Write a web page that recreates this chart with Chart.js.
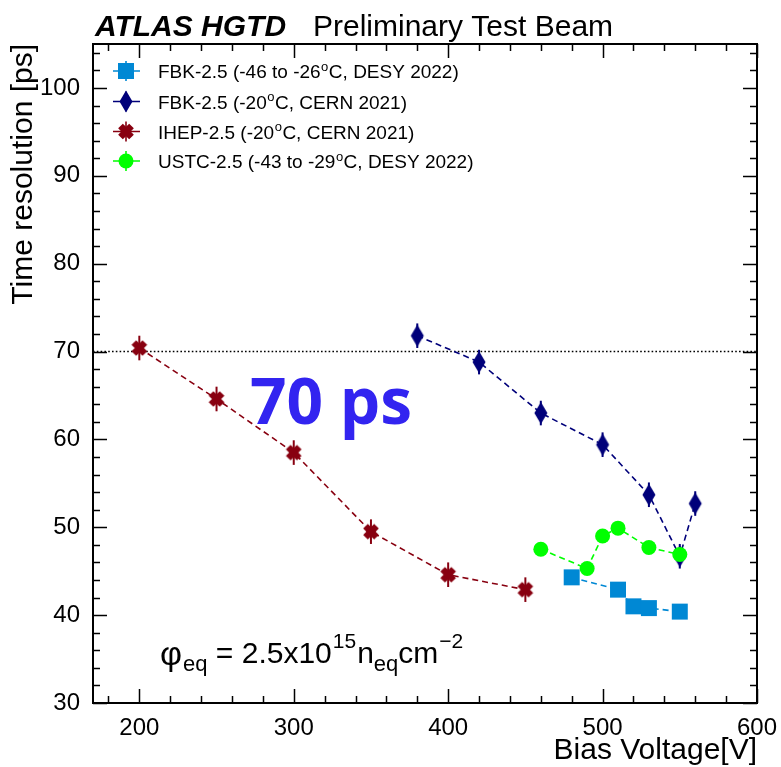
<!DOCTYPE html>
<html>
<head>
<meta charset="utf-8">
<title>Time resolution vs bias voltage</title>
<script src="https://cdn.jsdelivr.net/npm/chart.js@4/dist/chart.umd.min.js"></script>
<style>
  html, body { margin: 0; padding: 0; background: #ffffff; }
  canvas { display: block; }
</style>
</head>
<body>
<canvas id="chart" width="781" height="767"></canvas>
<script>
// Time resolution [ps] measured at each bias voltage [V]
const fbkDesyBias = [480, 510, 520, 530, 550];
const fbkDesyRes  = [44.3, 42.9, 41.0, 40.8, 40.4];

const fbkCernBias = [380, 420, 460, 500, 530, 550, 560];
const fbkCernRes  = [71.8, 68.8, 63.0, 59.4, 53.7, 46.7, 52.7];
const fbkCernErr  = [1.4, 1.4, 1.4, 1.4, 1.4, 1.4, 1.4];

const ihepBias = [200, 250, 300, 350, 400, 450];
const ihepRes  = [70.4, 64.6, 58.5, 49.5, 44.6, 42.9];
const ihepErr  = [1.4, 1.4, 1.4, 1.4, 1.4, 1.4];

const ustcBias = [460, 490, 500, 510, 530, 550];
const ustcRes  = [47.5, 45.3, 49.0, 49.9, 47.7, 46.9];

const seriesLabels = [
  'FBK-2.5 (-46 to -26°C, DESY 2022)',
  'FBK-2.5 (-20°C, CERN 2021)',
  'IHEP-2.5 (-20°C, CERN 2021)',
  'USTC-2.5 (-43 to -29°C, DESY 2022)'
];

const xTickValues = [200, 300, 400, 500, 600];
const yTickValues = [30, 40, 50, 60, 70, 80, 90, 100];
const targetResolution = 70;

const FONT = '"Liberation Sans", Arial, Helvetica, sans-serif';
const COLORS = { fbkDesy: '#0088d4', fbkCern: '#00007a', ihep: '#880010', ustc: '#00ff00' };

// ---- marker shapes ----
function pathDiamond(ctx, x, y) {
  ctx.beginPath();
  ctx.moveTo(x, y - 11);
  ctx.lineTo(x + 6.5, y);
  ctx.lineTo(x, y + 11);
  ctx.lineTo(x - 6.5, y);
  ctx.closePath();
}
function pathCrossX(ctx, x, y) {
  const a = 3.3, b = 7.8;
  const pts = [[-a,-b],[a,-b],[a,-a],[b,-a],[b,a],[a,a],[a,b],[-a,b],[-a,a],[-b,a],[-b,-a],[-a,-a]];
  const c = Math.SQRT1_2;
  ctx.beginPath();
  pts.forEach(([px, py], i) => {
    const rx = (px - py) * c, ry = (px + py) * c;
    if (i === 0) ctx.moveTo(x + rx, y + ry); else ctx.lineTo(x + rx, y + ry);
  });
  ctx.closePath();
}
function markerCanvas(w, h, color, pathFn) {
  const cv = document.createElement('canvas');
  cv.width = w; cv.height = h;
  const c = cv.getContext('2d');
  c.fillStyle = color;
  pathFn(c, w / 2, h / 2);
  c.fill();
  return cv;
}
const diamondStyle = markerCanvas(16, 24, COLORS.fbkCern, pathDiamond);
const crossStyle = markerCanvas(20, 20, COLORS.ihep, pathCrossX);

function drawMarker(ctx, kind, x, y, color) {
  ctx.save();
  ctx.fillStyle = color;
  if (kind === 'rect') {
    ctx.fillRect(x - 8, y - 8, 16, 16);
  } else if (kind === 'circle') {
    ctx.beginPath(); ctx.arc(x, y, 7.5, 0, Math.PI * 2); ctx.fill();
  } else if (kind === 'diamond') {
    pathDiamond(ctx, x, y); ctx.fill();
  } else {
    pathCrossX(ctx, x, y); ctx.fill();
  }
  ctx.restore();
}

const toXY = (xs, ys) => xs.map((v, i) => ({ x: v, y: ys[i] }));

const datasets = [
  {
    label: seriesLabels[0], data: toXY(fbkDesyBias, fbkDesyRes),
    borderColor: COLORS.fbkDesy, backgroundColor: COLORS.fbkDesy,
    pointStyle: 'rect', pointRadius: 11.3, order: 3, marker: 'rect'
  },
  {
    label: seriesLabels[1], data: toXY(fbkCernBias, fbkCernRes),
    borderColor: COLORS.fbkCern, backgroundColor: COLORS.fbkCern,
    pointStyle: diamondStyle, pointRadius: 11, order: 2, marker: 'diamond', errors: fbkCernErr
  },
  {
    label: seriesLabels[2], data: toXY(ihepBias, ihepRes),
    borderColor: COLORS.ihep, backgroundColor: COLORS.ihep,
    pointStyle: crossStyle, pointRadius: 10, order: 1, marker: 'cross', errors: ihepErr
  },
  {
    label: seriesLabels[3], data: toXY(ustcBias, ustcRes),
    borderColor: COLORS.ustc, backgroundColor: COLORS.ustc,
    pointStyle: 'circle', pointRadius: 7.5, order: 0, marker: 'circle'
  }
];
datasets.forEach(d => Object.assign(d, {
  showLine: true, borderWidth: 1.6, borderDash: [6, 4], fill: false,
  tension: 0, pointBorderWidth: 0, pointHoverRadius: d.pointRadius
}));

// ---- text helpers ----
function textWithDegree(ctx, text, x, y, size) {
  const parts = text.split('°');
  parts.forEach((p, i) => {
    ctx.font = `${size}px ${FONT}`;
    ctx.fillText(p, x, y);
    x += ctx.measureText(p).width;
    if (i < parts.length - 1) {
      ctx.font = `${Math.round(size * 0.68)}px ${FONT}`;
      ctx.fillText('o', x + 0.5, y - size * 0.38);
      x += ctx.measureText('o').width + 1;
    }
  });
}
function runs(ctx, x, pieces) {
  pieces.forEach(([t, size, baseY, gap]) => {
    ctx.font = `${size}px ${FONT}`;
    ctx.fillText(t, x, baseY);
    x += ctx.measureText(t).width + (gap || 0);
  });
}

const decorations = {
  id: 'decorations',
  beforeDatasetsDraw(chart) {
    const { ctx, chartArea: a, scales: { x, y } } = chart;
    ctx.save();
    // reference line at 70 ps
    const py = y.getPixelForValue(targetResolution);
    ctx.strokeStyle = '#000'; ctx.lineWidth = 1.6; ctx.setLineDash([1.6, 2.2]);
    ctx.beginPath(); ctx.moveTo(a.left, py); ctx.lineTo(a.right, py); ctx.stroke();
    ctx.setLineDash([]);
    // vertical error bars
    chart.data.datasets.forEach(ds => {
      if (!ds.errors) return;
      ctx.strokeStyle = ds.borderColor; ctx.lineWidth = 2;
      ds.data.forEach((p, i) => {
        const px = x.getPixelForValue(p.x);
        ctx.beginPath();
        ctx.moveTo(px, y.getPixelForValue(p.y + ds.errors[i]));
        ctx.lineTo(px, y.getPixelForValue(p.y - ds.errors[i]));
        ctx.stroke();
      });
    });
    ctx.restore();
  },
  afterDatasetsDraw(chart) {
    const { ctx, chartArea: a, scales: { x, y } } = chart;
    ctx.save();
    // frame
    ctx.strokeStyle = '#000'; ctx.lineWidth = 2;
    ctx.strokeRect(a.left, a.top, a.right - a.left, a.bottom - a.top);
    // inward ticks on all four sides
    ctx.lineWidth = 1.5;
    ctx.beginPath();
    for (let v = 180; v <= 600; v += 20) {
      const px = Math.round(x.getPixelForValue(v)) + 0.5;
      const len = v % 100 === 0 ? 14 : 7;
      ctx.moveTo(px, a.bottom); ctx.lineTo(px, a.bottom - len);
      ctx.moveTo(px, a.top); ctx.lineTo(px, a.top + len);
    }
    for (let v = 30; v <= 104; v += 2) {
      const py = Math.round(y.getPixelForValue(v)) + 0.5;
      const len = v % 10 === 0 ? 14 : 7;
      ctx.moveTo(a.left, py); ctx.lineTo(a.left + len, py);
      ctx.moveTo(a.right, py); ctx.lineTo(a.right - len, py);
    }
    ctx.stroke();

    // legend
    const rowY = [71, 101.5, 131.5, 161];
    chart.data.datasets.forEach((ds, i) => {
      const cy = rowY[i], cx = 126;
      ctx.strokeStyle = ds.borderColor; ctx.lineWidth = 1.6;
      ctx.beginPath();
      ctx.moveTo(113, cy); ctx.lineTo(140, cy);
      ctx.moveTo(cx, cy - 10); ctx.lineTo(cx, cy + 10);
      ctx.stroke();
      drawMarker(ctx, ds.marker, cx, cy, ds.backgroundColor);
      ctx.fillStyle = '#000'; ctx.textBaseline = 'alphabetic'; ctx.textAlign = 'left';
      textWithDegree(ctx, ds.label, 158, cy + 7, 19);
    });

    // big annotation
    ctx.fillStyle = '#3224f0';
    ctx.font = 'bold 64px "Open Sans", sans-serif';
    ctx.fillText('70 ps', 250, 424);

    // fluence
    ctx.fillStyle = '#000';
    runs(ctx, 160, [
      ['\u03c6', 34, 665, 1], ['eq', 22, 671, 0], [' = 2.5x10', 30, 663, 1], ['15', 21, 648, 1],
      ['n', 30, 663, 0], ['eq', 22, 671, 0], ['cm', 30, 663, 1], ['\u22122', 21, 648, 0]
    ]);
    ctx.restore();
  },
  afterDraw(chart) {
    const { ctx } = chart;
    ctx.save();
    ctx.fillStyle = '#000'; ctx.textBaseline = 'alphabetic'; ctx.textAlign = 'left';
    ctx.font = `italic bold 30px ${FONT}`;
    ctx.fillText('ATLAS HGTD', 95, 36);
    ctx.font = `30px ${FONT}`;
    ctx.fillText('Preliminary Test Beam', 313, 36);
    ctx.restore();
  }
};

new Chart(document.getElementById('chart'), {
  type: 'scatter',
  data: { datasets },
  options: {
    responsive: false,
    animation: false,
    devicePixelRatio: 1,
    layout: { padding: { left: 0, top: 44, right: 24, bottom: 0 } },
    plugins: { legend: { display: false }, tooltip: { enabled: false } },
    scales: {
      x: {
        type: 'linear', min: 170, max: 600,
        afterFit(s) { s.height = 64; },
        afterBuildTicks(s) { s.ticks = xTickValues.map(v => ({ value: v })); },
        grid: { display: false }, border: { display: false },
        ticks: { color: '#000', font: { family: FONT, size: 24 }, padding: 3, maxRotation: 0, autoSkip: false },
        title: { display: true, text: 'Bias Voltage[V]', align: 'end', color: '#000',
                 font: { family: FONT, size: 30 }, padding: { top: 0, bottom: -2 } }
      },
      y: {
        type: 'linear', min: 30, max: 105,
        afterFit(s) { s.width = 93; },
        afterBuildTicks(s) { s.ticks = yTickValues.map(v => ({ value: v })); },
        grid: { display: false }, border: { display: false },
        ticks: { color: '#000', font: { family: FONT, size: 24 }, padding: 5, autoSkip: false },
        title: { display: true, text: 'Time resolution [ps]', align: 'end', color: '#000',
                 font: { family: FONT, size: 30 }, padding: { top: 6, bottom: 0 } }
      }
    }
  },
  plugins: [decorations]
});
</script>
</body>
</html>
